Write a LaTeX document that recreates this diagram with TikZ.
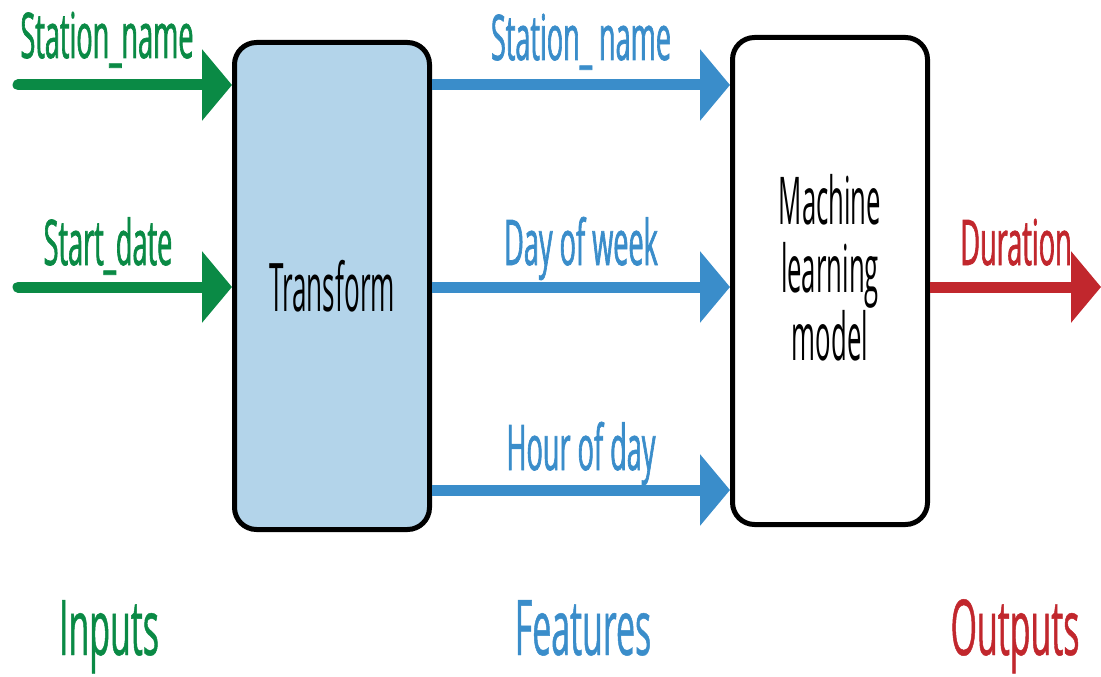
\documentclass[tikz,border=0pt]{standalone}
\usepackage{fontspec}
\setmainfont{Open Sans}[FakeStretch=0.39]
\newfontfamily\labelfont{Open Sans}[FakeStretch=0.43, FakeBold=1]
\newfontfamily\headfont{Open Sans}[FakeStretch=0.44, FakeBold=0.6]
\usepackage{tikz}
\usetikzlibrary{
  arrows.meta,
  positioning,
}
\definecolor{ingreen}{HTML}{0A8A45}
\definecolor{featblue}{HTML}{3A8DCA}
\definecolor{outred}{HTML}{C1272D}
\definecolor{boxbluebg}{HTML}{B3D4EA}

\begin{document}
\begin{tikzpicture}[
    x=0.5pt, y=0.5pt,
    block/.style={draw=black, line width=2.5pt, rounded corners=11pt,
                  minimum width=97.5pt, minimum height=243.5pt, inner sep=0pt},
    flow/.style={line width=5.5pt, -{Triangle[length=15pt, width=35pt]}},
    lbl/.style={anchor=base, font=\labelfont\fontsize{31.5}{36}\selectfont},
    head/.style={anchor=base, font=\headfont\fontsize{38.5}{42}\selectfont},
  ]
  \useasboundingbox (0,0) rectangle (1101,676);

  % the two boxes
  \node[block, fill=boxbluebg, font=\fontsize{33.5}{36}\selectfont]
       (tf) at (332,390) {Transform};
  \node[block, fill=white] (ml) at (830,395) {};
  \node[align=center, font=\fontsize{33}{34}\selectfont]
       (mltxt) at (830,408) {Machine\\learning\\model};

  % rows of the arrows
  \coordinate (r1) at (0,591);
  \coordinate (r2) at (0,389);
  \coordinate (r3) at (0,186);
  \coordinate (in1) at (18,591);
  \coordinate (in2) at (18,389);
  \coordinate (out) at (1101,389);

  % inputs
  \draw[flow, ingreen, line cap=round] (in1) -- (r1 -| tf.west);
  \draw[flow, ingreen, line cap=round] (in2) -- (r2 -| tf.west);
  \node[lbl, text=ingreen] (lin1) at (107,618) {Station\_name};
  \node[lbl, text=ingreen] (lin2) at (108,411) {Start\_date};

  % features
  \draw[flow, featblue] (r1 -| tf.east) -- (r1 -| ml.west);
  \draw[flow, featblue] (r2 -| tf.east) -- (r2 -| ml.west);
  \draw[flow, featblue] (r3 -| tf.east) -- (r3 -| ml.west);
  \node[lbl, text=featblue] (lf1) at (581,616) {Station\_ name};
  \node[lbl, text=featblue] (lf2) at (581,411) {Day of week};
  \node[lbl, text=featblue] (lf3) at (581,206) {Hour of day};

  % output
  \draw[flow, outred] (r2 -| ml.east) -- (out);
  \node[lbl, text=outred] (lout) at (1016,411) {Duration};

  % column heads
  \node[head, text=ingreen] (hin) at (109,21) {Inputs};
  \node[head, text=featblue] (hfeat) at (583,21) {Features};
  \node[head, text=outred] (hout) at (1015,21) {Outputs};
\end{tikzpicture}
\end{document}
